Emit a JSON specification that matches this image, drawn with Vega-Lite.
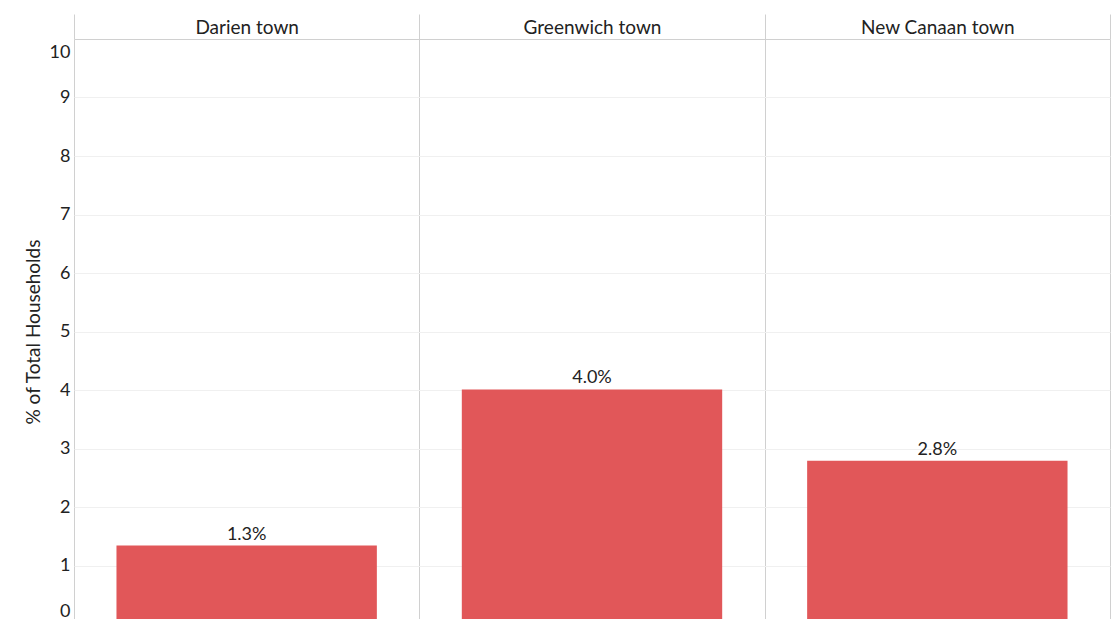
{
  "$schema": "https://vega.github.io/schema/vega-lite/v6.json",
  "width": 1036,
  "height": 585,
  "autosize": {"type": "none"},
  "padding": {"left": 74, "top": 39, "right": 10, "bottom": 0},
  "background": "white",
  "config": {
    "view": {"stroke": null},
    "font": "Lato"
  },
  "data": {
    "values": [
      {"town": "Darien town", "pct": 1.34, "label": "1.3%"},
      {"town": "Greenwich town", "pct": 4.01, "label": "4.0%"},
      {"town": "New Canaan town", "pct": 2.79, "label": "2.8%"}
    ]
  },
  "encoding": {
    "x": {
      "field": "town",
      "type": "nominal",
      "sort": null,
      "scale": {"paddingInner": 0, "paddingOuter": 0},
      "axis": {
        "orient": "top",
        "title": null,
        "tickBand": "extent",
        "tickSize": 25,
        "tickColor": "#d0d0d0",
        "grid": true,
        "gridColor": "#d0d0d0",
        "domain": true,
        "domainColor": "#d0d0d0",
        "labelPadding": -19,
        "labelAngle": 0,
        "labelFontSize": 19,
        "labelColor": "#222",
        "labelBaseline": "alphabetic"
      }
    },
    "y": {
      "field": "pct",
      "type": "quantitative",
      "scale": {"domain": [0, 10], "nice": false},
      "axis": {
        "title": "% of Total Households",
        "titleFontSize": 19,
        "titleFontWeight": "normal",
        "titleColor": "#222",
        "titlePadding": 6,
        "values": [0, 1, 2, 3, 4, 5, 6, 7, 8, 9, 10],
        "labelFontSize": 18,
        "labelColor": "#222",
        "labelFlush": true,
        "labelFlushOffset": -4,
        "labelPadding": 4,
        "domain": false,
        "ticks": false,
        "grid": true,
        "gridColor": "#f0f0f0"
      }
    }
  },
  "layer": [
    {
      "mark": {"type": "bar", "color": "#E15759", "width": {"band": 0.754}}
    },
    {
      "mark": {"type": "text", "baseline": "alphabetic", "dy": -6, "fontSize": 18, "color": "#222"},
      "encoding": {"text": {"field": "label"}}
    }
  ]
}
